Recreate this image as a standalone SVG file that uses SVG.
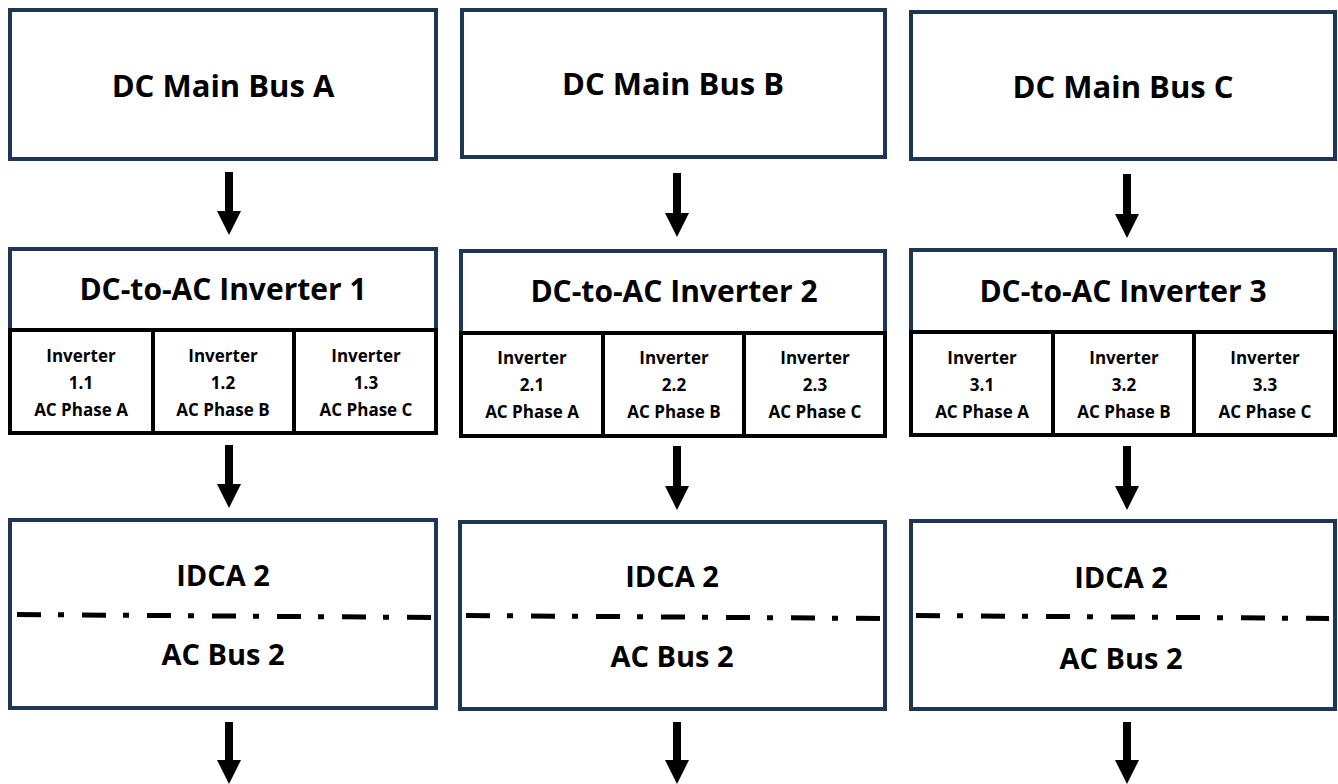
<svg xmlns="http://www.w3.org/2000/svg" width="1338" height="784" viewBox="0 0 1338 784">
<defs>
<style>
.box{fill:#fff;stroke:#1f3556;stroke-width:4}
.cell{fill:none;stroke:#000;stroke-width:4}
.t{font-family:"Open Sans","Liberation Sans",sans-serif;font-weight:bold;fill:#000;text-anchor:middle}
.h1{font-size:31px}
.h2{font-size:30px}
.h3{font-size:29px}
.s{font-size:17px}
.dd{stroke:#000;stroke-width:5;stroke-dasharray:24 17 6 18;fill:none}
.arr{stroke:#000;stroke-width:8;marker-end:url(#ah)}
</style>
<marker id="ah" viewBox="0 0 24 24" refX="4" refY="12" markerWidth="24" markerHeight="24" markerUnits="userSpaceOnUse" orient="auto">
<path d="M0,0 L24,12 L0,24 z" fill="#000"/>
</marker>
</defs>
<rect width="1338" height="784" fill="#fff"/>

<g id="dc-main-bus-a">
<rect class="box" x="10" y="10" width="426" height="149"/>
<text class="t h1" x="223" y="97">DC Main Bus A</text>
</g>
<g id="dc-main-bus-b">
<rect class="box" x="462" y="10" width="423" height="147"/>
<text class="t h1" x="673" y="95">DC Main Bus B</text>
</g>
<g id="dc-main-bus-c">
<rect class="box" x="911" y="12" width="424" height="147"/>
<text class="t h1" x="1123" y="98">DC Main Bus C</text>
</g>

<g id="inverter-1">
<rect class="box" x="10" y="249" width="426" height="184"/>
<rect class="cell" x="10" y="330" width="426" height="103"/>
<line x1="153" y1="330" x2="153" y2="433" stroke="#000" stroke-width="4"/>
<line x1="294" y1="330" x2="294" y2="433" stroke="#000" stroke-width="4"/>
<text class="t h2" x="223" y="300">DC-to-AC Inverter 1</text>
<text class="t s" x="81" y="362">Inverter</text>
<text class="t s" x="81" y="389">1.1</text>
<text class="t s" x="81" y="416">AC Phase A</text>
<text class="t s" x="223" y="362">Inverter</text>
<text class="t s" x="223" y="389">1.2</text>
<text class="t s" x="223" y="416">AC Phase B</text>
<text class="t s" x="366" y="362">Inverter</text>
<text class="t s" x="366" y="389">1.3</text>
<text class="t s" x="366" y="416">AC Phase C</text>
</g>
<g id="inverter-2">
<rect class="box" x="461" y="251" width="424" height="185"/>
<rect class="cell" x="461" y="333" width="424" height="103"/>
<line x1="603" y1="333" x2="603" y2="436" stroke="#000" stroke-width="4"/>
<line x1="744" y1="333" x2="744" y2="436" stroke="#000" stroke-width="4"/>
<text class="t h2" x="674" y="302">DC-to-AC Inverter 2</text>
<text class="t s" x="532" y="364">Inverter</text>
<text class="t s" x="532" y="391">2.1</text>
<text class="t s" x="532" y="418">AC Phase A</text>
<text class="t s" x="674" y="364">Inverter</text>
<text class="t s" x="674" y="391">2.2</text>
<text class="t s" x="674" y="418">AC Phase B</text>
<text class="t s" x="815" y="364">Inverter</text>
<text class="t s" x="815" y="391">2.3</text>
<text class="t s" x="815" y="418">AC Phase C</text>
</g>
<g id="inverter-3">
<rect class="box" x="911" y="250" width="424" height="185"/>
<rect class="cell" x="911" y="332" width="424" height="103"/>
<line x1="1053" y1="332" x2="1053" y2="435" stroke="#000" stroke-width="4"/>
<line x1="1194" y1="332" x2="1194" y2="435" stroke="#000" stroke-width="4"/>
<text class="t h2" x="1123" y="302">DC-to-AC Inverter 3</text>
<text class="t s" x="982" y="364">Inverter</text>
<text class="t s" x="982" y="391">3.1</text>
<text class="t s" x="982" y="418">AC Phase A</text>
<text class="t s" x="1124" y="364">Inverter</text>
<text class="t s" x="1124" y="391">3.2</text>
<text class="t s" x="1124" y="418">AC Phase B</text>
<text class="t s" x="1265" y="364">Inverter</text>
<text class="t s" x="1265" y="391">3.3</text>
<text class="t s" x="1265" y="418">AC Phase C</text>
</g>

<g id="idca-a">
<rect class="box" x="10" y="520" width="426" height="188"/>
<text class="t h3" x="223" y="586">IDCA 2</text>
<line class="dd" x1="17" y1="614.5" x2="431" y2="617.5"/>
<text class="t h3" x="223" y="665">AC Bus 2</text>
</g>
<g id="idca-b">
<rect class="box" x="460" y="522" width="425" height="187"/>
<text class="t h3" x="672" y="587">IDCA 2</text>
<line class="dd" x1="466" y1="615.5" x2="880" y2="618.5"/>
<text class="t h3" x="672" y="667">AC Bus 2</text>
</g>
<g id="idca-c">
<rect class="box" x="911" y="521" width="424" height="188"/>
<text class="t h3" x="1121" y="588">IDCA 2</text>
<line class="dd" x1="916" y1="615.5" x2="1329" y2="618.5"/>
<text class="t h3" x="1121" y="669">AC Bus 2</text>
</g>

<g id="connectors">
<line class="arr" x1="229" y1="172" x2="229" y2="215"/>
<line class="arr" x1="677" y1="173" x2="677" y2="217"/>
<line class="arr" x1="1127" y1="174" x2="1127" y2="218"/>
<line class="arr" x1="229" y1="445" x2="229" y2="488"/>
<line class="arr" x1="677" y1="446" x2="677" y2="490"/>
<line class="arr" x1="1127" y1="446" x2="1127" y2="490"/>
<line class="arr" x1="229" y1="722" x2="229" y2="764"/>
<line class="arr" x1="677" y1="722" x2="677" y2="764"/>
<line class="arr" x1="1127" y1="722" x2="1127" y2="764"/>
</g>
</svg>
